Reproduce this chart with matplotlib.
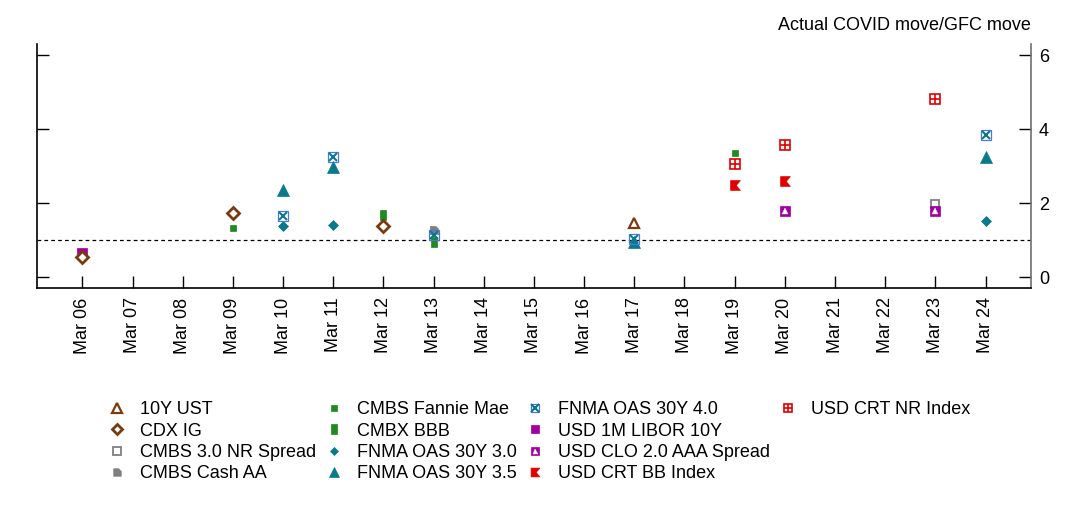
import matplotlib
matplotlib.use("Agg")
import matplotlib.pyplot as plt
import numpy as np

plt.rcParams['font.family'] = ['Liberation Sans', 'DejaVu Sans']

# ---- data ----
dates = ["Mar 06", "Mar 07", "Mar 08", "Mar 09", "Mar 10", "Mar 11", "Mar 12",
         "Mar 13", "Mar 14", "Mar 15", "Mar 16", "Mar 17", "Mar 18", "Mar 19",
         "Mar 20", "Mar 21", "Mar 22", "Mar 23", "Mar 24"]

ust10_d = ["Mar 17"];                                   ust10_v = [1.46]
cdxig_d = ["Mar 06", "Mar 09", "Mar 12"];               cdxig_v = [0.55, 1.74, 1.38]
cmbs30_d = ["Mar 23"];                                  cmbs30_v = [1.99]
cmbsaa_d = ["Mar 13"];                                  cmbsaa_v = [1.27]
cmbsfm_d = ["Mar 09", "Mar 19"];                        cmbsfm_v = [1.33, 3.35]
cmbx_d = ["Mar 12", "Mar 13"];                          cmbx_v = [1.67, 0.96]
fn30_d = ["Mar 10", "Mar 11", "Mar 24"];                fn30_v = [1.39, 1.42, 1.52]
fn35_d = ["Mar 10", "Mar 11", "Mar 17", "Mar 24"];      fn35_v = [2.37, 2.99, 0.95, 3.26]
fn40_d = ["Mar 10", "Mar 11", "Mar 13", "Mar 17", "Mar 24"]; fn40_v = [1.66, 3.25, 1.15, 1.03, 3.84]
libor_d = ["Mar 06"];                                   libor_v = [0.64]
clo_d = ["Mar 20", "Mar 23"];                           clo_v = [1.79, 1.79]
crtbb_d = ["Mar 19", "Mar 20"];                         crtbb_v = [2.49, 2.60]
crtnr_d = ["Mar 19", "Mar 20", "Mar 23"];               crtnr_v = [3.06, 3.58, 4.82]

yticks = [0, 2, 4, 6]
title = "Actual COVID move/GFC move"

# ---- style ----
brown = "#7a3a10"
grey = "#808080"
green = "#1f8a1f"
teal = "#0a7a8a"
blue = "#4a78e0"
purple = "#a000a0"
red = "#e00000"

notch_marker = [(-1, -1), (1, -1), (0.15, 0), (1, 1), (-1, 1), (-1, -1)]
rect_marker = [(-0.65, -1), (0.65, -1), (0.65, 1), (-0.65, 1), (-0.65, -1)]
cash_marker = [(-1, -1), (1, -1), (1, 0.3), (0.3, 1), (-1, 1), (-1, -1)]

fig = plt.figure(figsize=(10.78, 5.12), dpi=100)
ax = fig.add_axes([0.0346, 0.438, 0.9215, 0.476])

def pos(ds):
    return [dates.index(d) for d in ds]

def pl(ds, vs, z=3, **kw):
    return ax.plot(pos(ds), vs, linestyle='none', zorder=z, **kw)[0]

h_ust = pl(ust10_d, ust10_v, marker='^', ms=7.5, mfc='white', mec=brown, mew=1.6, z=5)
h_cdx = pl(cdxig_d, cdxig_v, marker='D', ms=6, mfc='white', mec=brown, mew=2.0, z=6)
h_c30 = pl(cmbs30_d, cmbs30_v, marker='s', ms=6, mfc='white', mec=grey, mew=1.3, z=3)
h_caa = pl(cmbsaa_d, cmbsaa_v, marker=cash_marker, ms=6, mfc=grey, mec=grey, mew=0.5, z=2)
h_cfm = pl(cmbsfm_d, cmbsfm_v, marker='s', ms=4.5, mfc=green, mec=green, mew=0.5, z=3)
h_cmbx = pl(cmbx_d, cmbx_v, marker=rect_marker, ms=7.5, mfc=green, mec=green, mew=0.5, z=3)
h_f30 = pl(fn30_d, fn30_v, marker='D', ms=5, mfc=teal, mec=teal, mew=0.5, z=3)
h_f35 = pl(fn35_d, fn35_v, marker='^', ms=8.5, mfc=teal, mec=teal, mew=0.5, z=3)
h_f40a = pl(fn40_d, fn40_v, marker='s', ms=6.5, mfc='none', mec=blue, mew=0.9, z=4)
h_f40b = pl(fn40_d, fn40_v, marker='x', ms=6, mfc='none', mec=teal, mew=1.5, z=4)
h_lib = pl(libor_d, libor_v, marker='s', ms=6.5, mfc=purple, mec=purple, mew=0.5, z=2)
h_cloa = pl(clo_d, clo_v, marker='s', ms=7, mfc=purple, mec=purple, mew=0.5, z=4)
h_clob = pl(clo_d, clo_v, marker='^', ms=4, mfc='white', mec='white', mew=0.3, z=4)
h_bb = pl(crtbb_d, crtbb_v, marker=notch_marker, ms=7, mfc=red, mec=red, mew=0.5, z=3)
h_nra = pl(crtnr_d, crtnr_v, marker='s', ms=7, mfc='white', mec=red, mew=1.2, z=3)
h_nrb = pl(crtnr_d, crtnr_v, marker='+', ms=7, mfc='none', mec=red, mew=1.2, z=3)

ax.axhline(1, color='black', lw=0.9, ls=(0, (3, 2.5)), zorder=1)

ax.set_xlim(-0.9, 18.9)
ax.set_ylim(-0.29, 6.31)
ax.set_xticks(range(len(dates)))
ax.set_xticklabels(dates, rotation=90, fontsize=13)
ax.set_yticks(yticks)
ax.set_yticklabels([str(t) for t in yticks], fontsize=13)
ax.tick_params(axis='y', direction='in', length=8.5, width=1, left=True, right=True,
               labelleft=False, labelright=True, pad=6)
ax.tick_params(axis='x', direction='in', length=8.5, width=1, pad=7)
ax.spines['top'].set_visible(False)
for s in ['left', 'bottom', 'right']:
    ax.spines[s].set_linewidth(1.2)
ax.spines['right'].set_color('#707070')

fig.text(0.956, 0.951, title, ha='right', va='center', fontsize=13)

blank = plt.Line2D([], [], linestyle='none')
handles = [h_ust, h_cdx, h_c30, h_caa,
           h_cfm, h_cmbx, h_f30, h_f35,
           (h_f40a, h_f40b), h_lib, (h_cloa, h_clob), h_bb,
           (h_nra, h_nrb), blank, blank, blank]
labels = ["10Y UST", "CDX IG", "CMBS 3.0 NR Spread", "CMBS Cash AA",
          "CMBS Fannie Mae", "CMBX BBB", "FNMA OAS 30Y 3.0", "FNMA OAS 30Y 3.5",
          "FNMA OAS 30Y 4.0", "USD 1M LIBOR 10Y", "USD CLO 2.0 AAA Spread", "USD CRT BB Index",
          "USD CRT NR Index", "", "", ""]
leg = fig.legend(handles, labels, ncol=4, loc='upper left', bbox_to_anchor=(0.100, 0.216),
                 frameon=False, fontsize=13, borderpad=0, borderaxespad=0,
                 handlelength=1.0, handletextpad=0.78, columnspacing=0.5,
                 labelspacing=0.24, markerscale=0.9)

fig.savefig("out.png", dpi=100)
